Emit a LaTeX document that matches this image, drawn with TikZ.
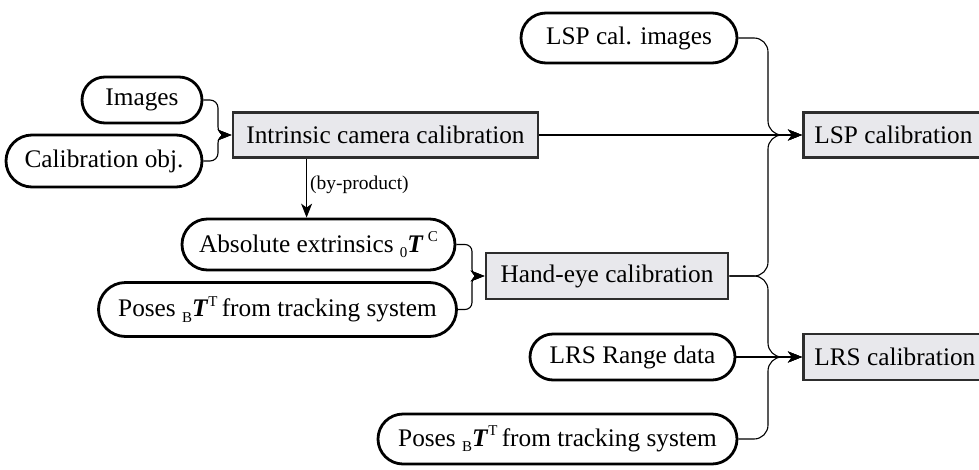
\documentclass[tikz,border=0pt]{standalone}
\usepackage{fontspec}
\setmainfont{Liberation Serif}
\usetikzlibrary{shapes.misc,arrows.meta,calc}
\definecolor{boxfill}{RGB}{232,232,236}
\definecolor{boxline}{RGB}{45,45,45}
\newcommand{\subm}[1]{\raisebox{-0.45ex}{\fontsize{15}{15}\selectfont #1}}
\newcommand{\supm}[1]{\raisebox{0.9ex}{\fontsize{15}{15}\selectfont #1}}
\newcommand{\bT}{\textbf{\textit{T}}}
\begin{document}
\begin{tikzpicture}[x=1pt,y=-1pt,
  pill/.style={rounded rectangle, draw, line width=2.8pt, inner sep=0pt,
    font=\fontsize{25.3}{28}\selectfont},
  proc/.style={rectangle, draw=boxline, fill=boxfill, line width=2.8pt, inner sep=0pt,
    font=\fontsize{25.3}{28}\selectfont},
  edgeproc/.style={proc, anchor=west, inner xsep=11pt},
  conn/.style={line width=1.1pt, -{Stealth[length=14pt,width=11pt,inset=4pt]}},
  lbl/.style={font=\fontsize{19.5}{21}\selectfont, inner sep=1pt}
]
\useasboundingbox (0,0) rectangle (979,469);
\clip (0,0) rectangle (979,469);

% inputs and processes
\node[pill, minimum width=120, minimum height=46] (img) at (142,100) {Images};
\node[pill, minimum width=196, minimum height=52] (calobj) at (104,161) {Calibration obj.};
\node[proc, minimum width=305, minimum height=45] (intr) at (385.5,135) {Intrinsic camera calibration};
\node[pill, minimum width=216, minimum height=50] (lspimg) at (629,38) {LSP cal. images};
\node[edgeproc, minimum height=45] (lsp) at (802,135) {LSP calibration\hspace*{25pt}};
\node[pill, minimum width=273, minimum height=51] (abs) at (318.5,244.5) {Absolute extrinsics \subm{0}\bT\,\supm{C}};
\node[pill, minimum width=358, minimum height=54] (poses1) at (277.5,309.5) {Poses \subm{B}\bT\supm{T}\,from tracking system};
\node[proc, minimum width=242, minimum height=46] (hand) at (607,276) {Hand-eye calibration};
\node[pill, minimum width=205, minimum height=46] (lrsr) at (632.5,357) {LRS Range data};
\node[edgeproc, minimum height=46] (lrs) at (802,357) {LRS calibration\hspace*{25pt}};
\node[pill, minimum width=359, minimum height=50] (poses2) at (557.5,439) {Poses \subm{B}\bT\supm{T}\,from tracking system};

% vertical guide positions
\coordinate (vA) at (218,0);
\coordinate (vB) at (472,0);
\coordinate (vC) at (768,0);

% connectors into intrinsic calibration
\draw[conn, rounded corners=8pt] (img.east) -- (img.east -| vA) -- (vA |- intr.west) -- (intr.west);
\draw[conn, rounded corners=8pt] (calobj.east) -- (calobj.east -| vA) -- (vA |- intr.west) -- (intr.west);

% by-product
\coordinate (bpa) at ($(intr.south west)+(75,0)$);
\draw[conn] (bpa) -- (bpa |- abs.north) node[lbl, midway, anchor=west, xshift=2pt, yshift=3pt] {(by-product)};

% into hand-eye
\draw[conn, rounded corners=7pt] (abs.east) -- (abs.east -| vB) -- (vB |- hand.west) -- (hand.west);
\draw[conn, rounded corners=7pt] (poses1.east) -- (poses1.east -| vB) -- (vB |- hand.west) -- (hand.west);

% into LSP calibration
\draw[conn] (intr.east) -- (lsp.west);
\draw[conn, rounded corners=14pt] (lspimg.east) -- (lspimg.east -| vC) -- (vC |- lsp.west) -- (lsp.west);
\draw[conn, rounded corners=14pt] (hand.east) -- (hand.east -| vC) -- (vC |- lsp.west) -- (lsp.west);

% into LRS calibration
\draw[conn, rounded corners=14pt] (hand.east) -- (hand.east -| vC) -- (vC |- lrs.west) -- (lrs.west);
\draw[conn] (lrsr.east) -- (lrs.west);
\draw[conn, rounded corners=14pt] (poses2.east) -- (poses2.east -| vC) -- (vC |- lrs.west) -- (lrs.west);
\end{tikzpicture}
\end{document}
